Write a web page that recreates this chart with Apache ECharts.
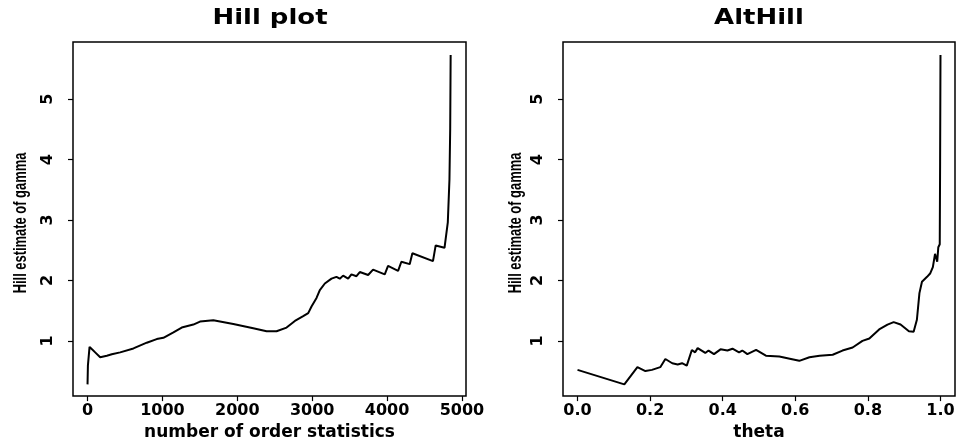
<!DOCTYPE html>
<html>
<head>
<meta charset="utf-8">
<script src="https://cdn.jsdelivr.net/npm/echarts@6/dist/echarts.min.js"></script>
<style>
  html, body { margin: 0; padding: 0; background: #fff; }
  #chart { width: 961px; height: 446px; }
</style>
</head>
<body>
<div id="chart"></div>
<script>
// Hill plot: number of order statistics vs Hill estimate
const hillK = [0, 5, 27, 60, 102, 169, 191, 258, 324, 436, 613, 791, 924, 1013, 1147, 1258, 1413, 1502, 1680, 1947, 2213, 2391, 2524, 2658, 2769, 2880, 2947, 2991, 3058, 3102, 3169, 3258, 3324, 3369, 3413, 3480, 3524, 3591, 3636, 3747, 3813, 3969, 4013, 4147, 4191, 4302, 4338, 4613, 4649, 4767, 4811, 4833, 4843, 4849]
const hillGamma = [0.28, 0.59, 0.9, 0.86, 0.81, 0.73, 0.7, 0.755, 0.78, 0.81, 0.875, 0.97, 1.03, 1.05, 1.14, 1.22, 1.27, 1.32, 1.34, 1.28, 1.21, 1.16, 1.16, 1.22, 1.33, 1.41, 1.46, 1.57, 1.71, 1.84, 1.95, 2.03, 2.06, 2.03, 2.08, 2.03, 2.1, 2.07, 2.14, 2.09, 2.18, 2.1, 2.24, 2.16, 2.31, 2.27, 2.45, 2.32, 2.58, 2.54, 2.96, 3.67, 4.51, 5.73]

// AltHill: theta vs Hill estimate
const altTheta = [0, 0.129, 0.165, 0.187, 0.205, 0.228, 0.242, 0.261, 0.276, 0.288, 0.301, 0.315, 0.324, 0.331, 0.352, 0.361, 0.376, 0.394, 0.413, 0.427, 0.445, 0.454, 0.468, 0.492, 0.519, 0.556, 0.588, 0.611, 0.639, 0.667, 0.703, 0.73, 0.758, 0.785, 0.804, 0.831, 0.854, 0.871, 0.89, 0.913, 0.926, 0.935, 0.942, 0.949, 0.963, 0.972, 0.979, 0.985, 0.991, 0.994, 0.998, 0.999, 1.0]
const altGamma = [0.52, 0.28, 0.565, 0.5, 0.52, 0.565, 0.7, 0.63, 0.61, 0.63, 0.59, 0.85, 0.81, 0.88, 0.8, 0.84, 0.78, 0.86, 0.84, 0.87, 0.81, 0.84, 0.78, 0.85, 0.755, 0.74, 0.7, 0.67, 0.73, 0.755, 0.77, 0.84, 0.89, 1.0, 1.04, 1.19, 1.27, 1.31, 1.27, 1.16, 1.15, 1.35, 1.79, 1.98, 2.06, 2.12, 2.22, 2.44, 2.31, 2.55, 2.6, 3.97, 5.73]

const yTicks = [1, 2, 3, 4, 5]
const hillTicks = [0, 1000, 2000, 3000, 4000, 5000]
const thetaTicks = [0, 0.2, 0.4, 0.6, 0.8, 1.0]

const titles = ['Hill plot', 'AltHill']
const xNames = ['number of order statistics', 'theta']
const yName = 'Hill estimate of gamma'

const chart = echarts.init(document.getElementById('chart'))

const tickFont = { fontFamily: 'DejaVu Sans', fontWeight: 'bold', fontSize: 16, color: '#000' }

function xAxis(idx, min, max, ticks, fmt) {
  return {
    type: 'value', gridIndex: idx, min, max,
    name: xNames[idx], nameLocation: 'middle', nameGap: 27,
    nameTextStyle: { fontFamily: 'DejaVu Sans', fontWeight: 'bold', fontSize: 17, color: '#000' },
    axisLine: { show: false, onZero: false },
    axisTick: { show: true, inside: false, length: 5, customValues: ticks, lineStyle: { color: '#000', width: 1.2 } },
    axisLabel: { ...tickFont, margin: 7, customValues: ticks, formatter: fmt },
    splitLine: { show: false },
  }
}

function yAxis(idx) {
  return {
    type: 'value', gridIndex: idx, min: 0.086, max: 5.947,
    axisLine: { show: false, onZero: false },
    axisTick: { show: true, length: 5, customValues: yTicks, lineStyle: { color: '#000', width: 1.2 } },
    axisLabel: { ...tickFont, fontSize: 16, rotate: 90, margin: 17, customValues: yTicks },
    splitLine: { show: false },
  }
}

const titleText = titles.map((t, i) => ({
  type: 'text', x: i === 0 ? 270 : 759, y: 18, scaleX: 1.18,
  style: { text: t, fill: '#000', font: 'bold 22px "DejaVu Sans"', textAlign: 'center', textVerticalAlign: 'middle' },
}))

// condensed, rotated y-axis titles
const yNameText = [21, 516].map((x) => ({
  type: 'text', x, y: 223, rotation: Math.PI / 2, scaleX: 0.68,
  style: { text: yName, fill: '#000', font: 'bold 19px "Liberation Sans"', textAlign: 'center', textVerticalAlign: 'middle' },
}))

chart.setOption({
  backgroundColor: '#fff',
  animation: false,
  graphic: [...titleText, ...yNameText],
  grid: [
    { left: 73, right: 495, top: 42, bottom: 45, show: true, borderColor: '#000', borderWidth: 1.5, backgroundColor: '#fff' },
    { left: 563, right: 6, top: 42, bottom: 45, show: true, borderColor: '#000', borderWidth: 1.5, backgroundColor: '#fff' },
  ],
  xAxis: [
    xAxis(0, -194, 5054, hillTicks, (v) => String(v)),
    xAxis(1, -0.04, 1.04, thetaTicks, (v) => v.toFixed(1)),
  ],
  yAxis: [yAxis(0), yAxis(1)],
  series: [
    {
      type: 'line', xAxisIndex: 0, yAxisIndex: 0, showSymbol: false,
      lineStyle: { color: '#000', width: 2 },
      data: hillK.map((k, i) => [k, hillGamma[i]]),
    },
    {
      type: 'line', xAxisIndex: 1, yAxisIndex: 1, showSymbol: false,
      lineStyle: { color: '#000', width: 2 },
      data: altTheta.map((t, i) => [t, altGamma[i]]),
    },
  ],
})
</script>
</body>
</html>
